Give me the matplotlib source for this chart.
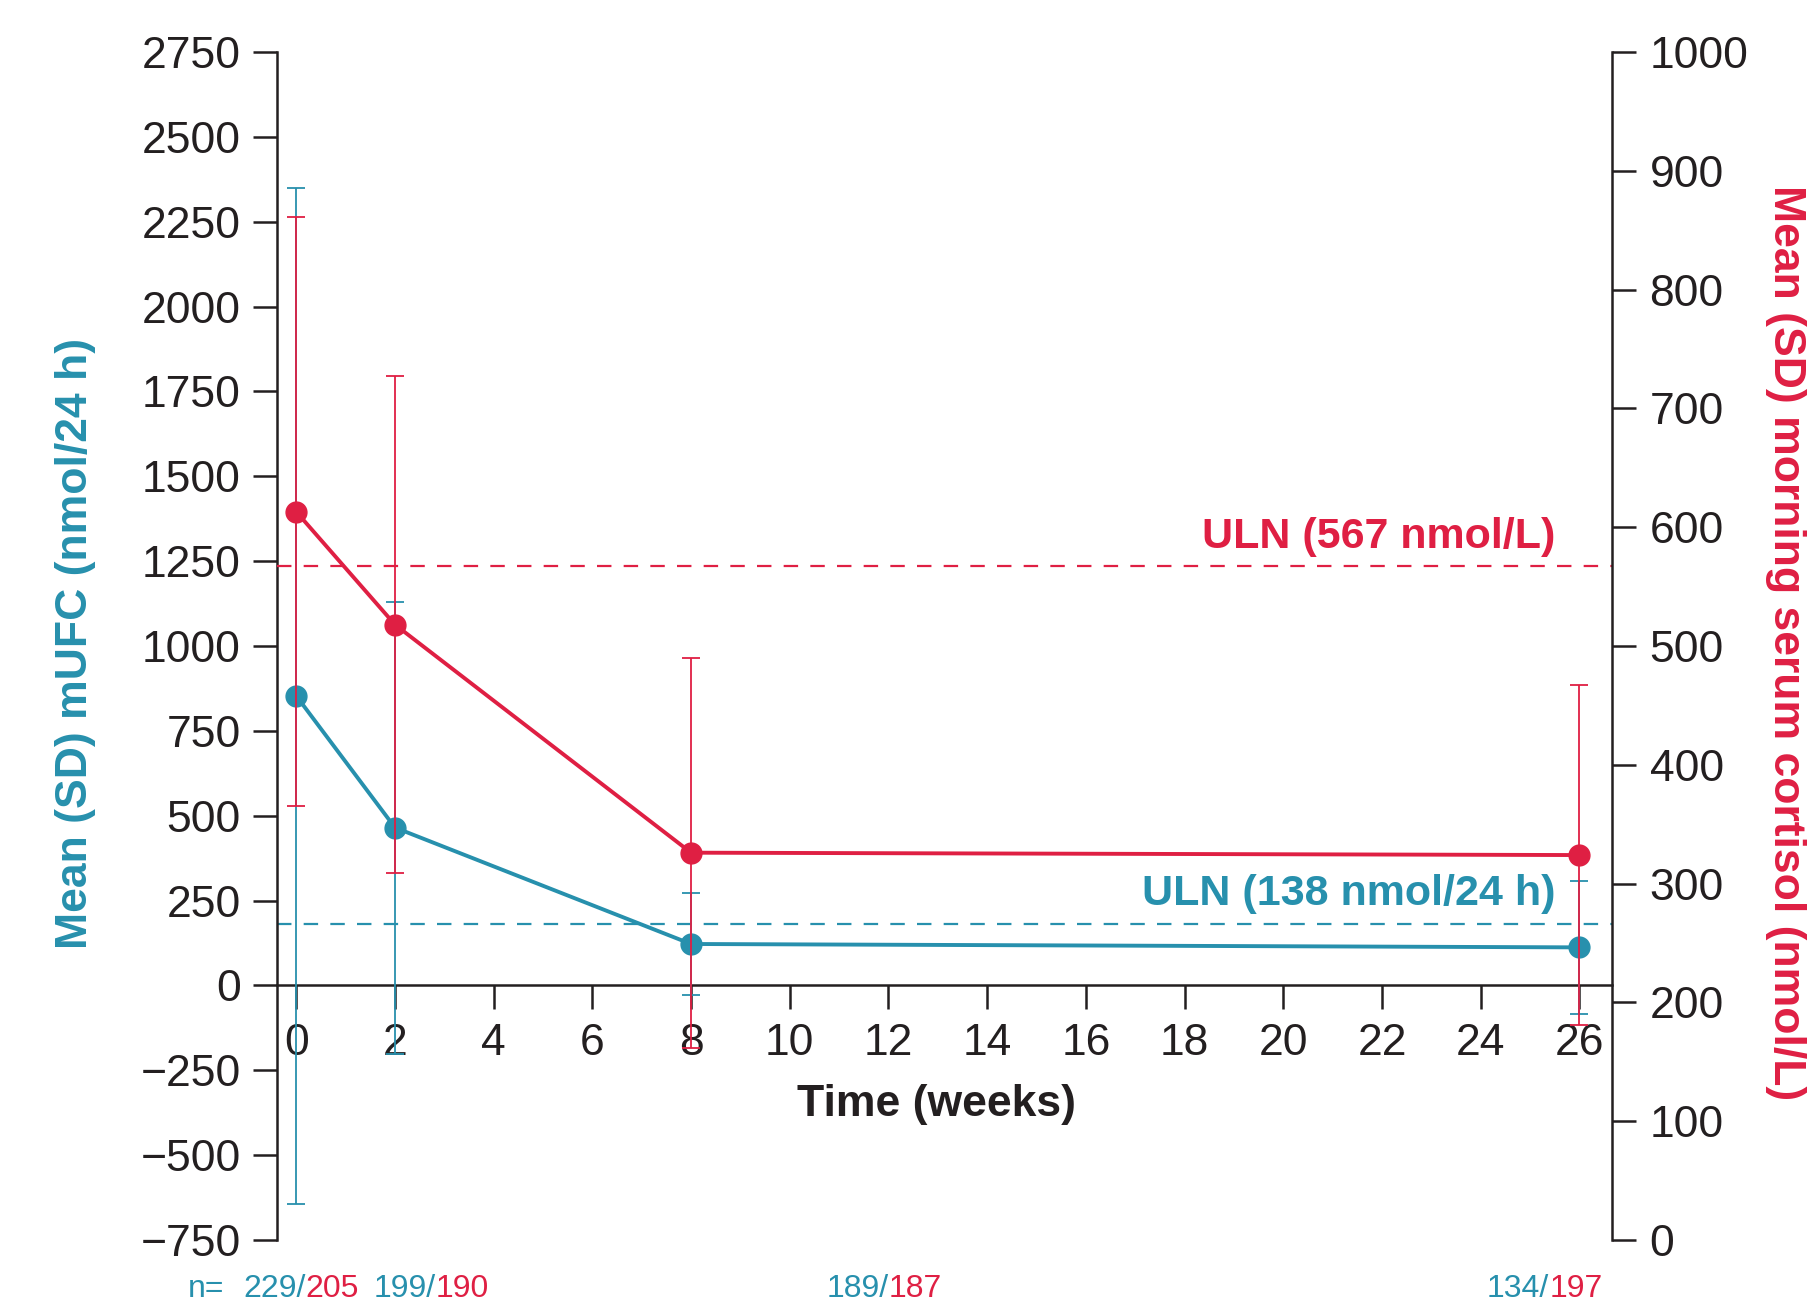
import matplotlib
matplotlib.use("Agg")
import matplotlib.pyplot as plt

# data
weeks = [0, 2, 8, 26]
mufc_mean = [853, 465, 122, 112]        # nmol/24 h, left axis
mufc_sd = [1497, 666, 151, 195]
cortisol_mean = [613, 518, 326, 324]    # nmol/L, right axis
cortisol_sd = [248, 209, 164, 143]

uln_mufc_level = 180      # where the dashed mUFC line is drawn
uln_cortisol_level = 567
uln_mufc_label = "ULN (138 nmol/24 h)"
uln_cortisol_label = "ULN (567 nmol/L)"

n_mufc = ["229", "199", "189", "134"]
n_cortisol = ["205", "190", "187", "197"]

x_ticks = list(range(0, 27, 2))
left_ticks = list(range(-750, 2751, 250))
right_ticks = list(range(0, 1001, 100))

teal = "#2790ad"
red = "#df1f43"
dark = "#231f20"

plt.rcParams['font.family'] = ['Liberation Sans', 'DejaVu Sans']

fig = plt.figure(figsize=(18.08, 13.07), dpi=100)
ax = fig.add_axes([0.1532, 0.0513, 0.7384, 0.9089])
ax2 = ax.twinx()

ax.set_xlim(-0.39, 26.66)
ax.set_ylim(-750, 2750)
ax2.set_ylim(0, 1000)

# mUFC series
ax.errorbar(weeks, mufc_mean, yerr=mufc_sd, color=teal, lw=2.8, marker='o', ms=15,
            elinewidth=1.3, capsize=6.5, capthick=1.3, zorder=3)
ax.axhline(uln_mufc_level, color=teal, lw=1.6, ls=(0, (6.5, 5.5)), zorder=2)
ax.text(25.52, uln_mufc_level + 30, uln_mufc_label, color=teal, fontsize=31,
        fontweight='bold', ha='right', va='bottom')

# cortisol series
ax2.errorbar(weeks, cortisol_mean, yerr=cortisol_sd, color=red, lw=2.8, marker='o', ms=15,
             elinewidth=1.3, capsize=6.5, capthick=1.3, zorder=3)
ax2.axhline(uln_cortisol_level, color=red, lw=1.6, ls=(0, (6.5, 5.5)), zorder=2)
ax2.text(25.52, uln_cortisol_level + 8, uln_cortisol_label, color=red, fontsize=31,
         fontweight='bold', ha='right', va='bottom')

# spines
for s in ['top', 'right']:
    ax.spines[s].set_visible(False)
ax.spines['bottom'].set_position(('data', 0))
ax.spines['left'].set_linewidth(1.8)
ax.spines['bottom'].set_linewidth(1.8)
ax.spines['left'].set_color(dark)
ax.spines['bottom'].set_color(dark)
for s in ['top', 'left', 'bottom']:
    ax2.spines[s].set_visible(False)
ax2.spines['right'].set_linewidth(1.8)
ax2.spines['right'].set_color(dark)

ax.set_xticks(x_ticks)
ax.set_yticks(left_ticks)
ax2.set_yticks(right_ticks)
ax.tick_params(axis='x', direction='out', length=17, width=1.8, color=dark,
               labelsize=32, labelcolor=dark, pad=10)
ax.tick_params(axis='y', direction='out', length=17, width=1.8, color=dark,
               labelsize=32, labelcolor=dark, pad=9)
ax2.tick_params(axis='y', direction='out', length=17, width=1.8, color=dark,
                labelsize=32, labelcolor=dark, pad=10)

# axis titles
fig.text(0.0415, 0.508, "Mean (SD) mUFC (nmol/24 h)", color=teal, fontsize=32,
         fontweight='bold', rotation=90, ha='center', va='center')
fig.text(0.9875, 0.508, "Mean (SD) morning serum cortisol (nmol/L)", color=red, fontsize=32,
         fontweight='bold', rotation=270, ha='center', va='center')
fig.text(0.5177, 0.1549, "Time (weeks)", color=dark, fontsize=32,
         fontweight='bold', ha='center', va='center')

# n= row
label_y = 0.0075
fig.text(188 / 1808, label_y, "n=", color=teal, fontsize=23, va='baseline', ha='left')
starts = [243, 374, 827, 1487]
for x0, a, b in zip(starts, n_mufc, n_cortisol):
    t = fig.text(x0 / 1808, label_y, a + "/", color=teal, fontsize=23,
                 va='baseline', ha='left')
    ax.annotate(b, xy=(1, 0), xycoords=t, color=red, fontsize=23,
                va='bottom', ha='left', annotation_clip=False)

fig.savefig("out.png", dpi=100)
